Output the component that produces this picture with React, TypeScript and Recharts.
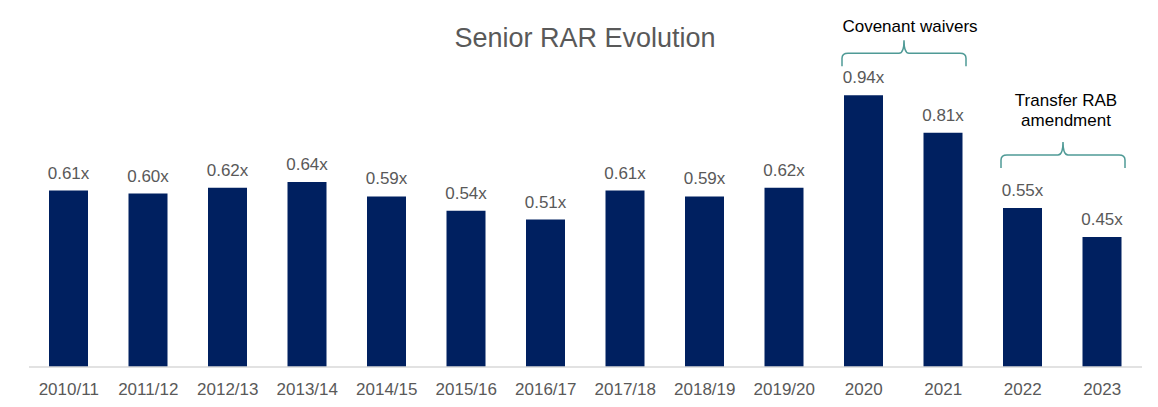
import React from "react";
import { BarChart, Bar, XAxis, YAxis, LabelList, ReferenceArea } from "recharts";

const categories = ["2010/11", "2011/12", "2012/13", "2013/14", "2014/15", "2015/16", "2016/17", "2017/18", "2018/19", "2019/20", "2020", "2021", "2022", "2023"];
const rarValues = [0.61, 0.6, 0.62, 0.64, 0.59, 0.54, 0.51, 0.61, 0.59, 0.62, 0.94, 0.81, 0.55, 0.45];
const titleText = "Senior RAR Evolution";
const annotations = [
  { from: "2020", to: "2021", lines: ["Covenant waivers"], y1: 1.04, y2: 1.13, gap: 8, dx: 6 },
  { from: "2022", to: "2023", lines: ["Transfer RAB", "amendment"], y1: 0.688, y2: 0.778, gap: 16, dx: 3 },
];

const data = categories.map((c, i) => ({ name: c, value: rarValues[i] }));

const FONT = "'Liberation Sans', Arial, sans-serif";
const BAR_COLOR = "#002060";
const GRAY = "#595959";
const BRACE = "#4F9A96";
const FRAME = "#c8c8c8";

const makeBrace = (lines: string[], gap: number, dx: number) => (props: any) => {
  const { x, y, width, height } = props;
  const L = x + 18;
  const R = x + width - 17;
  const cx = (L + R) / 2;
  const b = y + height;
  const p = y;
  const m = y + height / 2;
  const d = `M ${L} ${b} L ${L} ${m + 5} Q ${L} ${m} ${L + 6} ${m} L ${cx - 5} ${m} Q ${cx} ${m} ${cx} ${p} Q ${cx} ${m} ${cx + 5} ${m} L ${R - 6} ${m} Q ${R} ${m} ${R} ${m + 5} L ${R} ${b}`;
  const n = lines.length;
  return (
    <g>
      <path d={d} fill="none" stroke={BRACE} strokeWidth={1.5} />
      {lines.map((t, i) => (
        <text
          key={i}
          x={cx + dx}
          y={p - gap - (n - 1 - i) * 20}
          textAnchor="middle"
          fontFamily={FONT}
          fontSize={17}
          fill="#000000"
        >
          {t}
        </text>
      ))}
    </g>
  );
};

export default function App() {
  return (
    <div style={{ position: "relative", width: 1158, height: 407, marginLeft: -8, marginTop: -8, overflow: "hidden", background: "#fff" }}>
      <div
        style={{
          position: "absolute",
          left: 0,
          width: 1170,
          top: 25,
          fontFamily: FONT,
          fontSize: 27,
          lineHeight: "27px",
          color: GRAY,
        }}
      >
        <span style={{ position: "absolute", left: 585, transform: "translateX(-50%)", whiteSpace: "nowrap" }}>{titleText}</span>
      </div>
      <div style={{ position: "absolute", left: 0, top: 0 }}>
        <BarChart width={1158} height={407} data={data} margin={{ top: 20, right: 16, left: 29, bottom: 10 }}>
          <XAxis
            dataKey="name"
            height={30}
            tickLine={false}
            tickSize={6}
            tickMargin={10}
            axisLine={{ stroke: "#d9d9d9", strokeWidth: 1.5 }}
            tick={{ fill: GRAY, fontSize: 17, fontFamily: FONT }}
            interval={0}
          />
          <YAxis hide domain={[0, 1.2]} allowDataOverflow />
          <Bar dataKey="value" fill={BAR_COLOR} barSize={39} isAnimationActive={false}>
            <LabelList
              dataKey="value"
              position="top"
              offset={12}
              formatter={(v: any) => `${Number(v).toFixed(2)}x`}
              style={{ fill: GRAY, fontSize: 17, fontFamily: FONT }}
            />
          </Bar>
          {annotations.map((a, i) => (
            <ReferenceArea
              key={i}
              x1={a.from}
              x2={a.to}
              y1={a.y1}
              y2={a.y2}
              ifOverflow="visible"
              shape={makeBrace(a.lines, a.gap, a.dx)}
            />
          ))}
        </BarChart>
      </div>
      <div style={{ position: "absolute", left: 6, top: 5, width: 2, height: 410, background: FRAME }} />
      <div style={{ position: "absolute", left: 6, top: 5, width: 1160, height: 2, background: FRAME }} />
    </div>
  );
}
